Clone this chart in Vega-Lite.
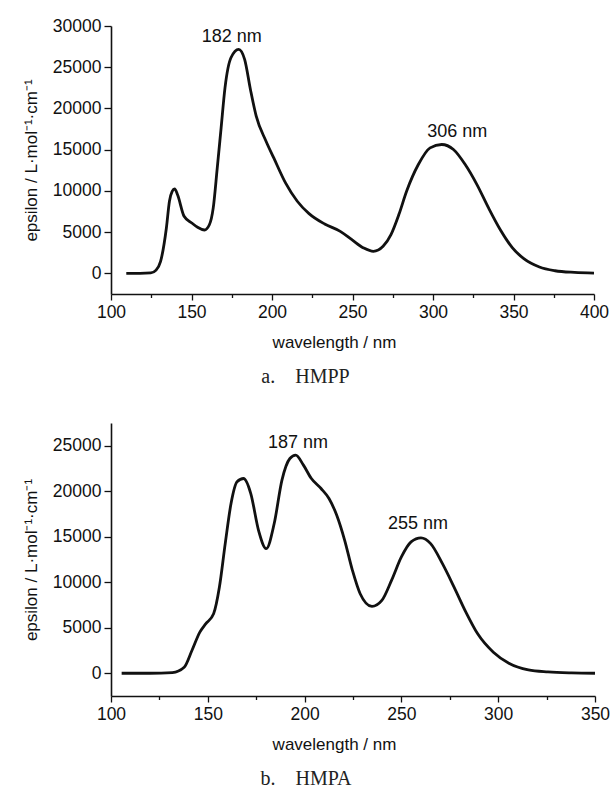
{
  "$schema": "https://vega.github.io/schema/vega-lite/v6.json",
  "background": "white",
  "padding": {"left": 22, "top": 17, "right": 5, "bottom": 5},
  "spacing": 36,
  "config": {
    "view": {"stroke": null},
    "font": "Liberation Sans",
    "axis": {
      "domainColor": "#111", "domainWidth": 1.6,
      "tickColor": "#111", "tickWidth": 1.3,
      "labelColor": "#111", "titleColor": "#111",
      "labelFont": "Liberation Sans", "titleFont": "Liberation Sans",
      "labelFontSize": 17.5, "titleFontSize": 17, "titleFontWeight": "normal",
      "grid": false, "labelOverlap": false, "labelFlush": false, "labelPadding": 3
    },
    "title": {"font": "Liberation Serif", "fontSize": 20, "fontWeight": "normal", "color": "#222"}
  },
  "datasets": {
    "hmpp": [
      {"wavelength": 109.5, "epsilon": 0}, {"wavelength": 118, "epsilon": 0}, {"wavelength": 124.7, "epsilon": 50},
      {"wavelength": 128, "epsilon": 400}, {"wavelength": 130.8, "epsilon": 1460}, {"wavelength": 134.4, "epsilon": 5500},
      {"wavelength": 136.3, "epsilon": 8750}, {"wavelength": 138, "epsilon": 9950}, {"wavelength": 139.5, "epsilon": 10240}, {"wavelength": 141.4, "epsilon": 9500},
      {"wavelength": 145.4, "epsilon": 6920}, {"wavelength": 150.2, "epsilon": 6110}, {"wavelength": 153.8, "epsilon": 5590},
      {"wavelength": 158, "epsilon": 5260}, {"wavelength": 161.1, "epsilon": 5900}, {"wavelength": 163.5, "epsilon": 7940},
      {"wavelength": 166, "epsilon": 12800}, {"wavelength": 168.4, "epsilon": 17650}, {"wavelength": 170.8, "epsilon": 22500},
      {"wavelength": 174.5, "epsilon": 26150}, {"wavelength": 179.3, "epsilon": 27170}, {"wavelength": 183, "epsilon": 25950},
      {"wavelength": 186.6, "epsilon": 22300}, {"wavelength": 190.2, "epsilon": 19070}, {"wavelength": 196.3, "epsilon": 16030},
      {"wavelength": 201.1, "epsilon": 14000}, {"wavelength": 208.4, "epsilon": 10970}, {"wavelength": 215.7, "epsilon": 8750},
      {"wavelength": 223, "epsilon": 7250}, {"wavelength": 232.7, "epsilon": 5990}, {"wavelength": 242.4, "epsilon": 5100},
      {"wavelength": 249.6, "epsilon": 4090}, {"wavelength": 256.9, "epsilon": 3080}, {"wavelength": 263, "epsilon": 2670},
      {"wavelength": 269, "epsilon": 3280}, {"wavelength": 273.9, "epsilon": 4700}, {"wavelength": 278.8, "epsilon": 7130},
      {"wavelength": 283.6, "epsilon": 9960}, {"wavelength": 290.9, "epsilon": 13200}, {"wavelength": 298.2, "epsilon": 15220},
      {"wavelength": 305.4, "epsilon": 15630}, {"wavelength": 312.7, "epsilon": 15020}, {"wavelength": 320, "epsilon": 13200},
      {"wavelength": 327.3, "epsilon": 10770}, {"wavelength": 334.5, "epsilon": 7940}, {"wavelength": 341.8, "epsilon": 5300},
      {"wavelength": 349.1, "epsilon": 3160}, {"wavelength": 356.4, "epsilon": 1780}, {"wavelength": 366.1, "epsilon": 770},
      {"wavelength": 375.8, "epsilon": 320}, {"wavelength": 387.9, "epsilon": 120}, {"wavelength": 400, "epsilon": 40}
    ],
    "hmpp_peaks": [
      {"wavelength": 175, "epsilon": 28700, "label": "182 nm"},
      {"wavelength": 315, "epsilon": 17200, "label": "306 nm"}
    ],
    "hmpa": [
      {"wavelength": 105.5, "epsilon": 0}, {"wavelength": 120, "epsilon": 0}, {"wavelength": 131.7, "epsilon": 70},
      {"wavelength": 137.8, "epsilon": 660}, {"wavelength": 141.8, "epsilon": 2500}, {"wavelength": 145.9, "epsilon": 4520},
      {"wavelength": 148.9, "epsilon": 5430}, {"wavelength": 153, "epsilon": 6530}, {"wavelength": 156, "epsilon": 9470},
      {"wavelength": 159, "epsilon": 14240}, {"wavelength": 162, "epsilon": 18650}, {"wavelength": 165.1, "epsilon": 21040},
      {"wavelength": 168.5, "epsilon": 21400}, {"wavelength": 172.2, "epsilon": 19750}, {"wavelength": 176.2, "epsilon": 15710},
      {"wavelength": 180.2, "epsilon": 13690}, {"wavelength": 184.3, "epsilon": 16450}, {"wavelength": 188.3, "epsilon": 21220},
      {"wavelength": 192.4, "epsilon": 23600}, {"wavelength": 195.4, "epsilon": 23970}, {"wavelength": 199.4, "epsilon": 22870},
      {"wavelength": 203.5, "epsilon": 21400}, {"wavelength": 208.5, "epsilon": 20300}, {"wavelength": 212.6, "epsilon": 19200},
      {"wavelength": 216.6, "epsilon": 17360}, {"wavelength": 220.7, "epsilon": 14610}, {"wavelength": 224.7, "epsilon": 11310},
      {"wavelength": 228.7, "epsilon": 8740}, {"wavelength": 234.8, "epsilon": 7340}, {"wavelength": 239.9, "epsilon": 8000},
      {"wavelength": 244.9, "epsilon": 10200}, {"wavelength": 250, "epsilon": 12780}, {"wavelength": 255, "epsilon": 14430},
      {"wavelength": 260.1, "epsilon": 14870}, {"wavelength": 265.1, "epsilon": 14240}, {"wavelength": 271.2, "epsilon": 12040},
      {"wavelength": 277.2, "epsilon": 9470}, {"wavelength": 283.3, "epsilon": 6720}, {"wavelength": 289.4, "epsilon": 4330},
      {"wavelength": 297.5, "epsilon": 2310}, {"wavelength": 305.5, "epsilon": 1100}, {"wavelength": 315.6, "epsilon": 370},
      {"wavelength": 325.7, "epsilon": 150}, {"wavelength": 337.9, "epsilon": 40}, {"wavelength": 350, "epsilon": 0}
    ],
    "hmpa_peaks": [
      {"wavelength": 196.6, "epsilon": 25250, "label": "187 nm"},
      {"wavelength": 258.6, "epsilon": 16400, "label": "255 nm"}
    ]
  },
  "vconcat": [
    {
      "width": 483, "height": 268,
      "title": {"text": "a.\u00a0\u00a0\u00a0\u00a0HMPP", "orient": "bottom", "anchor": "middle", "dx": -47, "offset": 16},
      "layer": [
        {
          "data": {"name": "hmpp"},
          "mark": {"type": "line", "color": "#111", "strokeWidth": 2.8, "interpolate": "monotone"},
          "encoding": {
            "x": {"field": "wavelength", "type": "quantitative",
              "scale": {"domain": [100, 400], "nice": false, "zero": false},
              "axis": {"title": "wavelength / nm", "titleX": 223, "titlePadding": 14,
                "values": [100,125,150,175,200,225,250,275,300,325,350,375,400], "format": "d",
                "labelExpr": "datum.value % 50 === 0 ? datum.label : ''",
                "tickSize": {"condition": {"test": "datum.value % 50 === 0", "value": 6}, "value": 3.5}}},
            "y": {"field": "epsilon", "type": "quantitative",
              "scale": {"domain": [-2500, 30000], "nice": false, "zero": false},
              "axis": {"title": "epsilon / L·mol⁻¹·cm⁻¹", "titlePadding": 12,
                "values": [0,2500,5000,7500,10000,12500,15000,17500,20000,22500,25000,27500,30000], "format": "d",
                "labelExpr": "datum.value % 5000 === 0 ? datum.label : ''",
                "tickSize": {"condition": {"test": "datum.value % 5000 === 0", "value": 7}, "value": 4}}}
          }
        },
        {
          "data": {"name": "hmpp_peaks"},
          "mark": {"type": "text", "fontSize": 18, "color": "#111", "font": "Liberation Sans"},
          "encoding": {
            "x": {"field": "wavelength", "type": "quantitative"},
            "y": {"field": "epsilon", "type": "quantitative"},
            "text": {"field": "label"}
          }
        }
      ]
    },
    {
      "width": 484, "height": 273,
      "title": {"text": "b.\u00a0\u00a0\u00a0\u00a0HMPA", "orient": "bottom", "anchor": "middle", "dx": -47, "offset": 16},
      "layer": [
        {
          "data": {"name": "hmpa"},
          "mark": {"type": "line", "color": "#111", "strokeWidth": 2.8, "interpolate": "monotone"},
          "encoding": {
            "x": {"field": "wavelength", "type": "quantitative",
              "scale": {"domain": [100, 350], "nice": false, "zero": false},
              "axis": {"title": "wavelength / nm", "titleX": 223, "titlePadding": 14,
                "values": [100,125,150,175,200,225,250,275,300,325,350], "format": "d",
                "labelExpr": "datum.value % 50 === 0 ? datum.label : ''",
                "tickSize": {"condition": {"test": "datum.value % 50 === 0", "value": 6}, "value": 3.5}}},
            "y": {"field": "epsilon", "type": "quantitative",
              "scale": {"domain": [-2500, 27500], "nice": false, "zero": false},
              "axis": {"title": "epsilon / L·mol⁻¹·cm⁻¹", "titlePadding": 12,
                "values": [0,2500,5000,7500,10000,12500,15000,17500,20000,22500,25000,27500], "format": "d",
                "labelExpr": "datum.value % 5000 === 0 ? datum.label : ''",
                "tickSize": {"condition": {"test": "datum.value % 5000 === 0", "value": 7}, "value": 4}}}
          }
        },
        {
          "data": {"name": "hmpa_peaks"},
          "mark": {"type": "text", "fontSize": 18, "color": "#111", "font": "Liberation Sans"},
          "encoding": {
            "x": {"field": "wavelength", "type": "quantitative"},
            "y": {"field": "epsilon", "type": "quantitative"},
            "text": {"field": "label"}
          }
        }
      ]
    }
  ]
}
